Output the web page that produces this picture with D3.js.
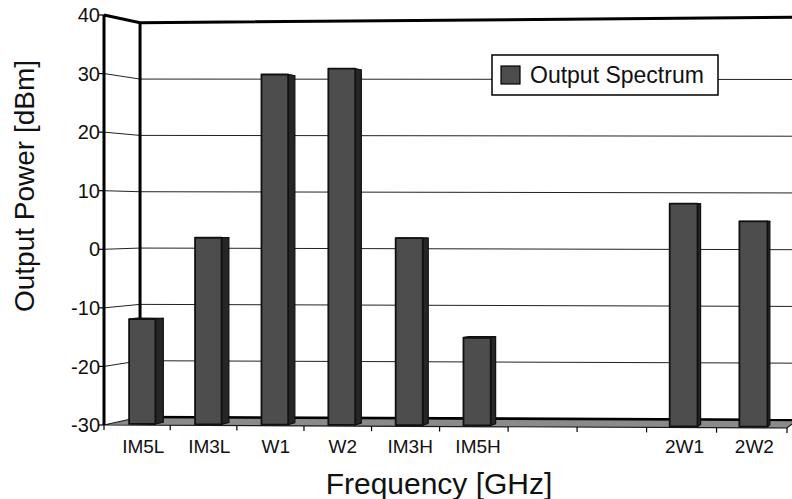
<!DOCTYPE html>
<html>
<head>
<meta charset="utf-8">
<script src="https://cdn.jsdelivr.net/npm/d3@7"></script>
<style>
  html, body { margin: 0; padding: 0; background: #fff; }
  svg { display: block; font-family: "Liberation Sans", Arial, sans-serif; }
</style>
</head>
<body>
<svg id="chart" width="792" height="499"></svg>
<script>
// Output spectrum of the amplifier (two-tone test), in dBm
const categories = ["IM5L", "IM3L", "W1", "W2", "IM3H", "IM5H", "", "", "2W1", "2W2"];
const values = [-12, 2, 30, 31, 2, -15, null, null, 8, 5];
const yTicks = [-30, -20, -10, 0, 10, 20, 30, 40];
const seriesName = "Output Spectrum";
const yTitle = "Output Power [dBm]";
const xTitle = "Frequency [GHz]";

const svg = d3.select("#chart");

// ---- 3-D box projection ----------------------------------------------
// c: category position (0..n), v: value, z: depth (0 = front, 1 = back)
const n = categories.length;
const tScale = d3.scaleLinear().domain([0, n]).range([0, 1]);
const xFront = d3.scaleLinear().domain([0, 1]).range([104, 787]);
const yUnit = d3.scaleLinear().domain([-30, 40]).range([0, 1]);
const widen = -0.034;              // horizontal foreshortening across the front
const vanish = [1045, 217];        // vanishing point of the depth direction
const depthK = 0.0383;             // shrink factor across the full depth
const bottomLeft = 425, bottomRight = 428, topY = 15;

function proj(c, v, z) {
  const t = tScale(c);
  const tw = t * (1 + widen) / (1 + widen * t);
  const xf = xFront(tw);
  const yb = bottomLeft + (bottomRight - bottomLeft) * t;
  const yf = yb + (topY - yb) * yUnit(v);
  const f = 1 - depthK * z;
  return [vanish[0] + (xf - vanish[0]) * f, vanish[1] + (yf - vanish[1]) * f];
}
const line = d3.line();
const poly = pts => line(pts) + "Z";

const vMin = yUnit.domain()[0], vMax = yUnit.domain()[1];

// ---- back wall and side wall gridlines --------------------------------
const grid = svg.append("g");
yTicks.filter(v => v > vMin && v < vMax).forEach(v => {
  grid.append("path")
    .attr("d", line([proj(0, v, 0), proj(0, v, 1), proj(n, v, 1)]))
    .attr("fill", "none").attr("stroke", "#222").attr("stroke-width", 1);
});

// back-left corner of the walls
svg.append("path")
  .attr("d", line([proj(0, vMin, 1), proj(0, vMax, 1)]))
  .attr("stroke", "#000").attr("stroke-width", 3).attr("fill", "none");

// top edge of walls
const wallTopRise = 5.5;
const backTopRight = proj(n, vMax, 1);
svg.append("path")
  .attr("d", line([proj(0, vMax, 0), proj(0, vMax, 1), [backTopRight[0], backTopRight[1] - wallTopRise]]))
  .attr("stroke", "#000").attr("stroke-width", 3).attr("fill", "none")
  .attr("stroke-linejoin", "miter");

// ---- floor --------------------------------------------------------------
svg.append("path")
  .attr("d", poly([proj(0, vMin, 0), proj(n, vMin, 0), proj(n, vMin, 1), proj(0, vMin, 1)]))
  .attr("fill", "#8a8a8a").attr("stroke", "#1a1a1a").attr("stroke-width", 1.2);
svg.append("path")
  .attr("d", line([proj(0, vMin, 1), proj(n, vMin, 1)]))
  .attr("stroke", "#000").attr("stroke-width", 2.6).attr("fill", "none");

// ---- bars -----------------------------------------------------------------
const z0 = 0.15, z1 = 0.38, barL = 0.3, barR = 0.7;
const bars = svg.append("g");
values.forEach((v, i) => {
  if (v === null) return;
  const g = bars.append("g");
  // top face
  g.append("path")
    .attr("d", poly([proj(i + barL, v, z0), proj(i + barR, v, z0), proj(i + barR, v, z1), proj(i + barL, v, z1)]))
    .attr("fill", "#6a6a6a").attr("stroke", "#111").attr("stroke-width", 1.2).attr("stroke-linejoin", "round");
  // right side face
  g.append("path")
    .attr("d", poly([proj(i + barR, vMin, z0), proj(i + barR, vMin, z1), proj(i + barR, v, z1), proj(i + barR, v, z0)]))
    .attr("fill", "#262626").attr("stroke", "#111").attr("stroke-width", 1.2).attr("stroke-linejoin", "round");
  // front face
  g.append("path")
    .attr("d", poly([proj(i + barL, vMin, z0), proj(i + barR, vMin, z0), proj(i + barR, v, z0), proj(i + barL, v, z0)]))
    .attr("fill", "#4d4d4d").attr("stroke", "#111").attr("stroke-width", 1.8).attr("stroke-linejoin", "round");
});

// ---- front-left value axis ------------------------------------------------
svg.append("path")
  .attr("d", line([proj(0, vMin, 0), proj(0, vMax, 0)]))
  .attr("stroke", "#000").attr("stroke-width", 3).attr("fill", "none");

const yAxis = svg.append("g");
yTicks.forEach(v => {
  const p = proj(0, v, 0);
  yAxis.append("line")
    .attr("x1", p[0] - 5).attr("x2", p[0]).attr("y1", p[1]).attr("y2", p[1])
    .attr("stroke", "#000").attr("stroke-width", 1.2);
  yAxis.append("text")
    .attr("x", p[0] - 4).attr("y", p[1]).attr("dy", "0.36em")
    .attr("text-anchor", "end").attr("font-size", 20).attr("fill", "#111")
    .text(v);
});

// ---- category axis ----------------------------------------------------------
const xAxis = svg.append("g");
d3.range(0, n + 1).forEach(c => {
  const p = proj(c, vMin, 0);
  xAxis.append("line")
    .attr("x1", p[0]).attr("x2", p[0]).attr("y1", p[1]).attr("y2", p[1] + 5)
    .attr("stroke", "#000").attr("stroke-width", 1.2);
});
categories.forEach((name, i) => {
  if (!name) return;
  const p = proj(i + 0.5, vMin, z0);
  xAxis.append("text")
    .attr("x", p[0] + 1).attr("y", 453)
    .attr("text-anchor", "middle").attr("font-size", 19).attr("fill", "#111")
    .text(name);
});

// ---- titles ---------------------------------------------------------------
svg.append("text")
  .attr("transform", "translate(34,186) rotate(-90)")
  .attr("text-anchor", "middle").attr("font-size", 28).attr("fill", "#111")
  .text(yTitle);
svg.append("text")
  .attr("x", 439).attr("y", 494)
  .attr("text-anchor", "middle").attr("font-size", 30).attr("fill", "#111")
  .text(xTitle);

// ---- legend -----------------------------------------------------------------
const legend = svg.append("g").attr("transform", "translate(492,55)");
legend.append("rect")
  .attr("width", 226).attr("height", 40)
  .attr("fill", "#fff").attr("stroke", "#000").attr("stroke-width", 1.5);
legend.append("rect")
  .attr("x", 9).attr("y", 11).attr("width", 19).attr("height", 18)
  .attr("fill", "#4d4d4d").attr("stroke", "#000").attr("stroke-width", 1.2);
legend.append("text")
  .attr("x", 38).attr("y", 28)
  .attr("font-size", 23).attr("fill", "#111")
  .text(seriesName);
</script>
</body>
</html>
